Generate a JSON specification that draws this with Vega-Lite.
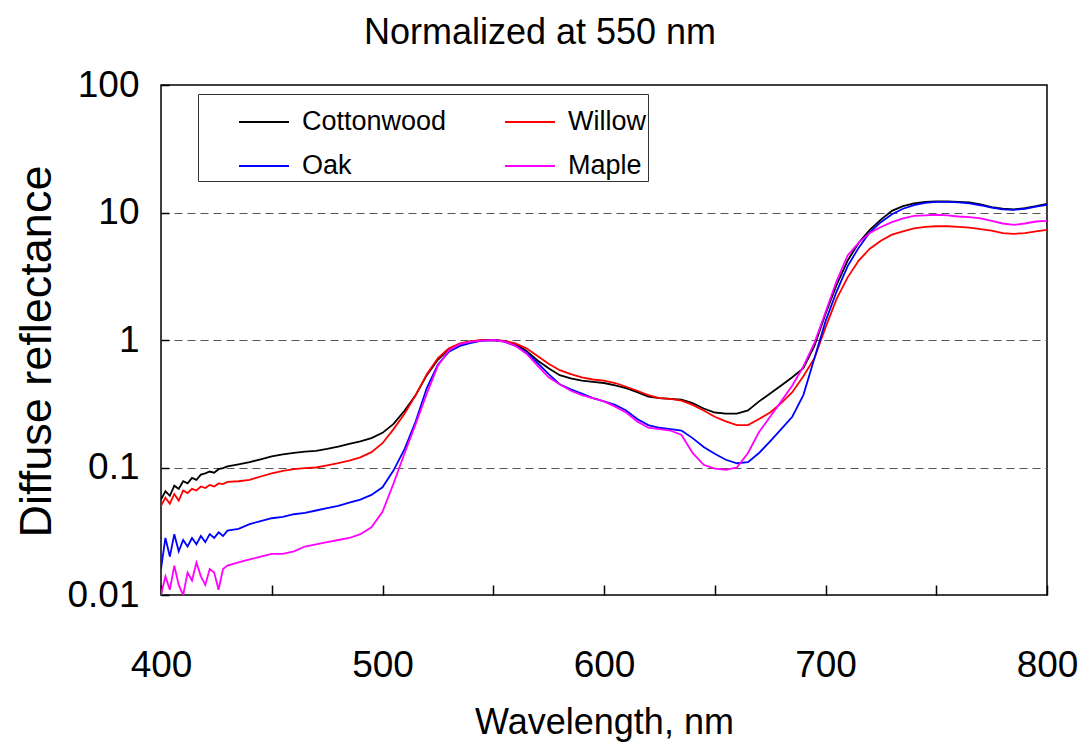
{
  "$schema": "https://vega.github.io/schema/vega-lite/v6.json",
  "width": 886,
  "height": 510,
  "autosize": {"type": "none"},
  "padding": {"left": 161, "top": 85, "right": 42, "bottom": 148},
  "background": "white",
  "title": {
    "text": "Normalized at 550 nm",
    "font": "Liberation Sans",
    "fontSize": 36,
    "fontWeight": "normal",
    "color": "black",
    "anchor": "middle",
    "frame": "group",
    "baseline": "alphabetic",
    "offset": -14,
    "dx": -64
  },
  "config": {
    "view": {"stroke": "black", "strokeWidth": 1.5},
    "font": "Liberation Sans"
  },
  "data": {
    "values": [
      {"w": 400, "Cottonwood": 0.056, "Willow": 0.050, "Oak": 0.016, "Maple": 0.010},
      {"w": 402, "Cottonwood": 0.065, "Willow": 0.058, "Oak": 0.028, "Maple": 0.014},
      {"w": 404, "Cottonwood": 0.060, "Willow": 0.052, "Oak": 0.020, "Maple": 0.011},
      {"w": 406, "Cottonwood": 0.072, "Willow": 0.062, "Oak": 0.030, "Maple": 0.017},
      {"w": 408, "Cottonwood": 0.068, "Willow": 0.055, "Oak": 0.022, "Maple": 0.012},
      {"w": 410, "Cottonwood": 0.078, "Willow": 0.066, "Oak": 0.027, "Maple": 0.010},
      {"w": 412, "Cottonwood": 0.075, "Willow": 0.063, "Oak": 0.024, "Maple": 0.015},
      {"w": 414, "Cottonwood": 0.083, "Willow": 0.068, "Oak": 0.028, "Maple": 0.013},
      {"w": 416, "Cottonwood": 0.080, "Willow": 0.066, "Oak": 0.025, "Maple": 0.018},
      {"w": 418, "Cottonwood": 0.088, "Willow": 0.071, "Oak": 0.029, "Maple": 0.014},
      {"w": 420, "Cottonwood": 0.090, "Willow": 0.069, "Oak": 0.026, "Maple": 0.012},
      {"w": 422, "Cottonwood": 0.093, "Willow": 0.073, "Oak": 0.030, "Maple": 0.016},
      {"w": 424, "Cottonwood": 0.091, "Willow": 0.071, "Oak": 0.028, "Maple": 0.015},
      {"w": 426, "Cottonwood": 0.097, "Willow": 0.075, "Oak": 0.031, "Maple": 0.011},
      {"w": 428, "Cottonwood": 0.099, "Willow": 0.074, "Oak": 0.029, "Maple": 0.016},
      {"w": 430, "Cottonwood": 0.102, "Willow": 0.077, "Oak": 0.032, "Maple": 0.017},
      {"w": 435, "Cottonwood": 0.106, "Willow": 0.078, "Oak": 0.033, "Maple": 0.018},
      {"w": 440, "Cottonwood": 0.110, "Willow": 0.080, "Oak": 0.036, "Maple": 0.019},
      {"w": 445, "Cottonwood": 0.116, "Willow": 0.085, "Oak": 0.038, "Maple": 0.020},
      {"w": 450, "Cottonwood": 0.122, "Willow": 0.090, "Oak": 0.040, "Maple": 0.021},
      {"w": 455, "Cottonwood": 0.127, "Willow": 0.094, "Oak": 0.041, "Maple": 0.021},
      {"w": 460, "Cottonwood": 0.130, "Willow": 0.097, "Oak": 0.043, "Maple": 0.022},
      {"w": 465, "Cottonwood": 0.133, "Willow": 0.099, "Oak": 0.044, "Maple": 0.024},
      {"w": 470, "Cottonwood": 0.135, "Willow": 0.100, "Oak": 0.046, "Maple": 0.025},
      {"w": 475, "Cottonwood": 0.140, "Willow": 0.104, "Oak": 0.048, "Maple": 0.026},
      {"w": 480, "Cottonwood": 0.146, "Willow": 0.108, "Oak": 0.050, "Maple": 0.027},
      {"w": 485, "Cottonwood": 0.153, "Willow": 0.113, "Oak": 0.053, "Maple": 0.028},
      {"w": 490, "Cottonwood": 0.160, "Willow": 0.120, "Oak": 0.056, "Maple": 0.030},
      {"w": 495, "Cottonwood": 0.170, "Willow": 0.132, "Oak": 0.061, "Maple": 0.034},
      {"w": 500, "Cottonwood": 0.187, "Willow": 0.155, "Oak": 0.070, "Maple": 0.045},
      {"w": 505, "Cottonwood": 0.220, "Willow": 0.200, "Oak": 0.095, "Maple": 0.075},
      {"w": 510, "Cottonwood": 0.280, "Willow": 0.265, "Oak": 0.140, "Maple": 0.130},
      {"w": 515, "Cottonwood": 0.370, "Willow": 0.370, "Oak": 0.230, "Maple": 0.220},
      {"w": 520, "Cottonwood": 0.530, "Willow": 0.540, "Oak": 0.420, "Maple": 0.380},
      {"w": 525, "Cottonwood": 0.700, "Willow": 0.720, "Oak": 0.640, "Maple": 0.630},
      {"w": 530, "Cottonwood": 0.850, "Willow": 0.860, "Oak": 0.810, "Maple": 0.830},
      {"w": 535, "Cottonwood": 0.930, "Willow": 0.940, "Oak": 0.900, "Maple": 0.930},
      {"w": 540, "Cottonwood": 0.975, "Willow": 0.980, "Oak": 0.950, "Maple": 0.970},
      {"w": 545, "Cottonwood": 0.995, "Willow": 1.0, "Oak": 0.990, "Maple": 0.990},
      {"w": 550, "Cottonwood": 1.0, "Willow": 1.0, "Oak": 1.0, "Maple": 1.0},
      {"w": 555, "Cottonwood": 0.98, "Willow": 0.985, "Oak": 0.97, "Maple": 0.97},
      {"w": 560, "Cottonwood": 0.93, "Willow": 0.94, "Oak": 0.90, "Maple": 0.90},
      {"w": 565, "Cottonwood": 0.82, "Willow": 0.86, "Oak": 0.80, "Maple": 0.78},
      {"w": 570, "Cottonwood": 0.69, "Willow": 0.75, "Oak": 0.66, "Maple": 0.63},
      {"w": 575, "Cottonwood": 0.60, "Willow": 0.65, "Oak": 0.54, "Maple": 0.51},
      {"w": 580, "Cottonwood": 0.53, "Willow": 0.58, "Oak": 0.45, "Maple": 0.45},
      {"w": 585, "Cottonwood": 0.50, "Willow": 0.54, "Oak": 0.41, "Maple": 0.40},
      {"w": 590, "Cottonwood": 0.48, "Willow": 0.51, "Oak": 0.38, "Maple": 0.37},
      {"w": 595, "Cottonwood": 0.47, "Willow": 0.49, "Oak": 0.35, "Maple": 0.35},
      {"w": 600, "Cottonwood": 0.46, "Willow": 0.48, "Oak": 0.33, "Maple": 0.33},
      {"w": 605, "Cottonwood": 0.44, "Willow": 0.46, "Oak": 0.31, "Maple": 0.30},
      {"w": 610, "Cottonwood": 0.42, "Willow": 0.43, "Oak": 0.28, "Maple": 0.27},
      {"w": 615, "Cottonwood": 0.39, "Willow": 0.40, "Oak": 0.24, "Maple": 0.23},
      {"w": 620, "Cottonwood": 0.36, "Willow": 0.37, "Oak": 0.215, "Maple": 0.205},
      {"w": 625, "Cottonwood": 0.35, "Willow": 0.35, "Oak": 0.205, "Maple": 0.20},
      {"w": 630, "Cottonwood": 0.345, "Willow": 0.345, "Oak": 0.20, "Maple": 0.195},
      {"w": 635, "Cottonwood": 0.34, "Willow": 0.335, "Oak": 0.195, "Maple": 0.18},
      {"w": 640, "Cottonwood": 0.32, "Willow": 0.31, "Oak": 0.17, "Maple": 0.13},
      {"w": 645, "Cottonwood": 0.29, "Willow": 0.28, "Oak": 0.145, "Maple": 0.105},
      {"w": 650, "Cottonwood": 0.27, "Willow": 0.25, "Oak": 0.128, "Maple": 0.098},
      {"w": 655, "Cottonwood": 0.265, "Willow": 0.23, "Oak": 0.115, "Maple": 0.096},
      {"w": 660, "Cottonwood": 0.265, "Willow": 0.215, "Oak": 0.108, "Maple": 0.10},
      {"w": 665, "Cottonwood": 0.28, "Willow": 0.215, "Oak": 0.11, "Maple": 0.13},
      {"w": 670, "Cottonwood": 0.33, "Willow": 0.24, "Oak": 0.13, "Maple": 0.19},
      {"w": 675, "Cottonwood": 0.38, "Willow": 0.27, "Oak": 0.16, "Maple": 0.25},
      {"w": 680, "Cottonwood": 0.44, "Willow": 0.32, "Oak": 0.20, "Maple": 0.33},
      {"w": 685, "Cottonwood": 0.51, "Willow": 0.39, "Oak": 0.25, "Maple": 0.44},
      {"w": 690, "Cottonwood": 0.60, "Willow": 0.52, "Oak": 0.37, "Maple": 0.62},
      {"w": 695, "Cottonwood": 0.90, "Willow": 0.72, "Oak": 0.72, "Maple": 0.95},
      {"w": 700, "Cottonwood": 1.6, "Willow": 1.25, "Oak": 1.4, "Maple": 1.65},
      {"w": 705, "Cottonwood": 2.7, "Willow": 2.1, "Oak": 2.4, "Maple": 2.9},
      {"w": 710, "Cottonwood": 4.2, "Willow": 3.1, "Oak": 3.8, "Maple": 4.6},
      {"w": 715, "Cottonwood": 5.8, "Willow": 4.2, "Oak": 5.3, "Maple": 5.8},
      {"w": 720, "Cottonwood": 7.3, "Willow": 5.2, "Oak": 7.0, "Maple": 6.9},
      {"w": 725, "Cottonwood": 8.8, "Willow": 6.0, "Oak": 8.4, "Maple": 7.7},
      {"w": 730, "Cottonwood": 10.3, "Willow": 6.7, "Oak": 9.7, "Maple": 8.4},
      {"w": 735, "Cottonwood": 11.2, "Willow": 7.1, "Oak": 10.7, "Maple": 9.0},
      {"w": 740, "Cottonwood": 11.8, "Willow": 7.5, "Oak": 11.4, "Maple": 9.4},
      {"w": 745, "Cottonwood": 12.1, "Willow": 7.7, "Oak": 11.9, "Maple": 9.5},
      {"w": 750, "Cottonwood": 12.2, "Willow": 7.8, "Oak": 12.1, "Maple": 9.6},
      {"w": 755, "Cottonwood": 12.2, "Willow": 7.8, "Oak": 12.1, "Maple": 9.5},
      {"w": 760, "Cottonwood": 12.1, "Willow": 7.7, "Oak": 12.0, "Maple": 9.3},
      {"w": 765, "Cottonwood": 12.0, "Willow": 7.6, "Oak": 11.8, "Maple": 9.2},
      {"w": 770, "Cottonwood": 11.6, "Willow": 7.4, "Oak": 11.4, "Maple": 9.0},
      {"w": 775, "Cottonwood": 11.0, "Willow": 7.2, "Oak": 10.9, "Maple": 8.6},
      {"w": 780, "Cottonwood": 10.7, "Willow": 6.9, "Oak": 10.6, "Maple": 8.2},
      {"w": 785, "Cottonwood": 10.6, "Willow": 6.8, "Oak": 10.5, "Maple": 8.0},
      {"w": 790, "Cottonwood": 10.8, "Willow": 6.9, "Oak": 10.7, "Maple": 8.2},
      {"w": 795, "Cottonwood": 11.2, "Willow": 7.1, "Oak": 11.1, "Maple": 8.5},
      {"w": 800, "Cottonwood": 11.7, "Willow": 7.3, "Oak": 11.5, "Maple": 8.6}
    ]
  },
  "transform": [
    {"fold": ["Cottonwood", "Willow", "Oak", "Maple"], "as": ["series", "value"]}
  ],
  "mark": {"type": "line", "strokeWidth": 1.8, "clip": true},
  "encoding": {
    "x": {
      "field": "w",
      "type": "quantitative",
      "scale": {"domain": [400, 800], "nice": false, "zero": false},
      "axis": {
        "title": "Wavelength, nm",
        "values": [400, 450, 500, 550, 600, 650, 700, 750, 800],
        "labelExpr": "datum.value % 100 == 0 ? datum.label : ''",
        "grid": false,
        "domain": false,
        "tickSize": -10,
        "tickColor": "black",
        "tickWidth": 1.5,
        "labelFont": "Liberation Sans",
        "labelFontSize": 37,
        "labelColor": "black",
        "labelBaseline": "alphabetic",
        "labelPadding": 91,
        "labelFlush": false,
        "labelOverlap": false,
        "titleFont": "Liberation Sans",
        "titleFontSize": 36,
        "titleFontWeight": "normal",
        "titleColor": "black",
        "titleBaseline": "alphabetic",
        "titleY": 138,
        "titleX": 443
      }
    },
    "y": {
      "field": "value",
      "type": "quantitative",
      "scale": {"type": "log", "domain": [0.01, 100], "nice": false},
      "axis": {
        "title": "Diffuse reflectance",
        "values": [0.01, 0.1, 1, 10, 100],
        "format": "~g",
        "grid": true,
        "gridDash": [8, 5],
        "gridColor": "#555555",
        "gridWidth": 1,
        "gridOpacity": {"condition": {"test": "datum.value < 0.05 || datum.value > 50", "value": 0}, "value": 1},
        "domain": false,
        "tickSize": -8,
        "tickColor": "black",
        "tickWidth": 1.5,
        "labelFont": "Liberation Sans",
        "labelFontSize": 37,
        "labelColor": "black",
        "labelPadding": 30,
        "labelFlush": false,
        "labelOverlap": false,
        "titleFont": "Liberation Sans",
        "titleFontSize": 45,
        "titleFontWeight": "normal",
        "titleColor": "black",
        "titleBaseline": "alphabetic",
        "titleX": -111,
        "titleY": 266,
        "titleAngle": -90
      }
    },
    "color": {
      "field": "series",
      "type": "nominal",
      "scale": {
        "domain": ["Cottonwood", "Willow", "Oak", "Maple"],
        "range": ["#000000", "#ff0000", "#0000ff", "#ff00ff"]
      },
      "legend": {
        "title": null,
        "orient": "none",
        "legendX": 37,
        "legendY": 9,
        "columns": 2,
        "gridAlign": "all",
        "direction": "horizontal",
        "symbolType": "stroke",
        "symbolSize": 2500,
        "symbolStrokeWidth": 1.8,
        "symbolOffset": 38,
        "labelOffset": 12,
        "labelFont": "Liberation Sans",
        "labelFontSize": 27,
        "labelColor": "black",
        "labelLimit": 400,
        "columnPadding": 19,
        "rowPadding": 5,
        "padding": 2,
        "strokeColor": "#333333",
        "fillColor": "white"
      }
    }
  }
}
